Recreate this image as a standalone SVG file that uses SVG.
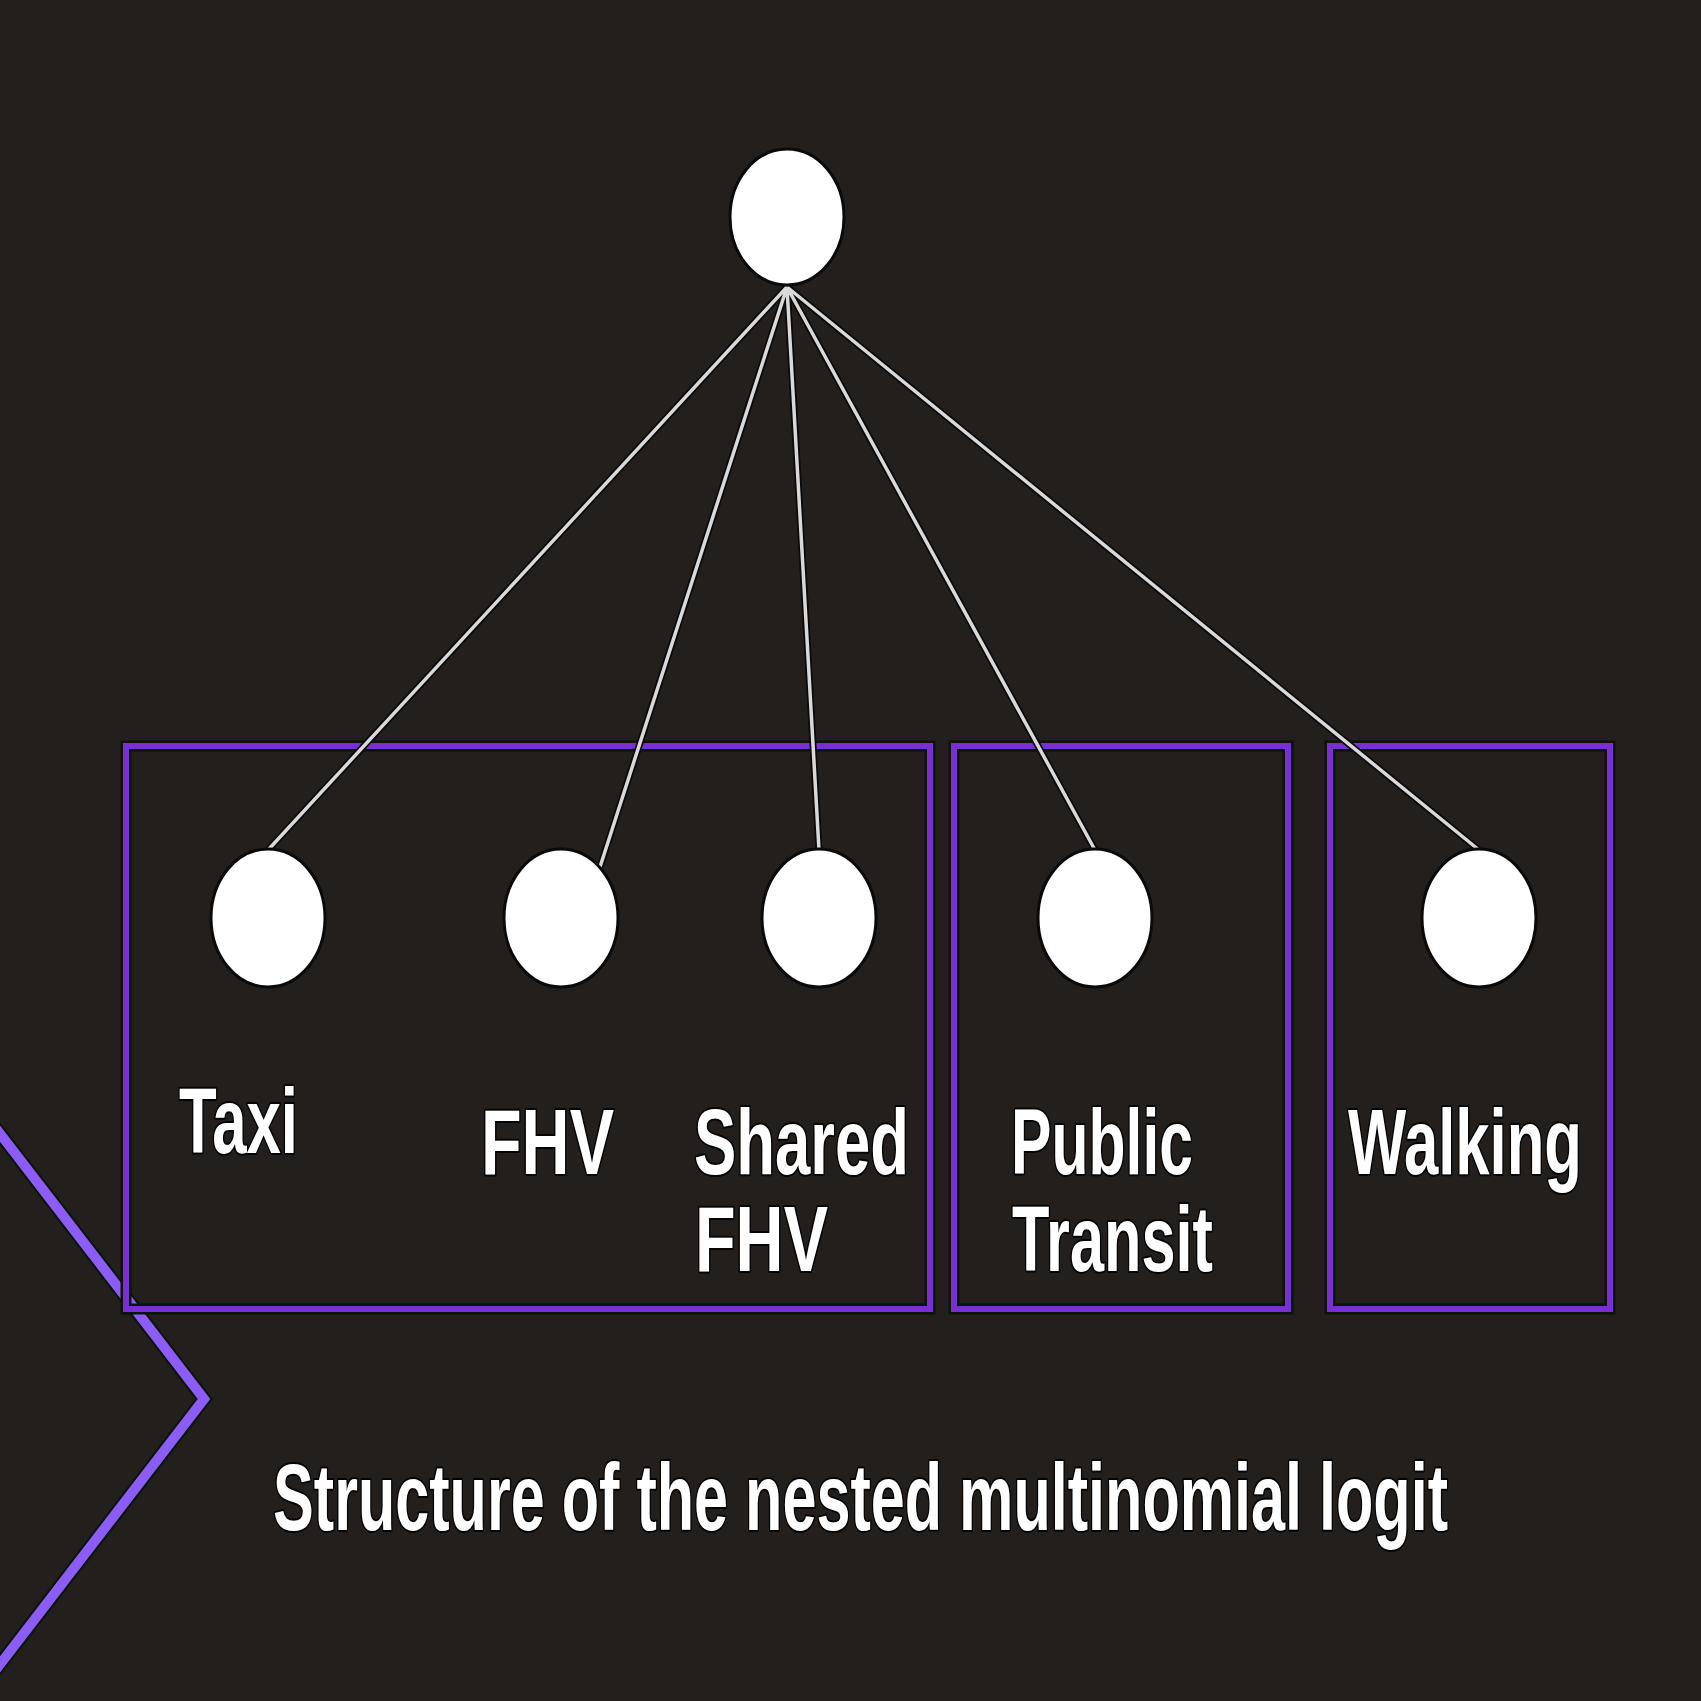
<svg xmlns="http://www.w3.org/2000/svg" width="1701" height="1701" viewBox="0 0 1701 1701">
<style>
.bg{fill:#231f1d}
.node{fill:#ffffff;stroke:#0a0a0a;stroke-width:3}
.halo{fill:none;stroke:#0b1409;stroke-width:11}
.box{fill:none;stroke:#7a2fd2;stroke-width:6}
.edge-h{stroke:#0a0a0a;stroke-width:7;fill:none}
.edge{stroke:#d9d9d9;stroke-width:3.5;fill:none}
.lbl{font-family:"Liberation Sans",Arial,sans-serif;font-weight:bold;font-size:92px;fill:#ffffff;stroke:#050505;stroke-width:4;paint-order:stroke;stroke-linejoin:round}
.cap{font-size:94px}
.chev-h{fill:none;stroke:#0b1409;stroke-width:14}
.chev{fill:none;stroke:#8c5cf7;stroke-width:10}
</style>
<rect class="bg" x="0" y="0" width="1701" height="1701"/>
<g id="decoration">
<polyline class="chev-h" points="-22,1105 204,1399 -22,1693"/>
<polyline class="chev" points="-22,1105 204,1399 -22,1693"/>
</g>
<g id="nest-boxes">
<rect class="halo" x="126" y="746" width="804" height="563"/>
<rect class="box" x="126" y="746" width="804" height="563"/>
<rect class="halo" x="954" y="746" width="334" height="563"/>
<rect class="box" x="954" y="746" width="334" height="563"/>
<rect class="halo" x="1330" y="746" width="280" height="563"/>
<rect class="box" x="1330" y="746" width="280" height="563"/>
</g>
<g id="connectors">
<path class="edge-h" d="M787,287 L268,850 M787,287 L600,867 M787,287 L819,850 M787,287 L1095,850 M787,287 L1479,850"/>
<path class="edge" d="M787,287 L268,850 M787,287 L600,867 M787,287 L819,850 M787,287 L1095,850 M787,287 L1479,850"/>
</g>
<g id="root"><ellipse class="node" cx="787" cy="217" rx="57" ry="68"/></g>
<g id="taxi"><ellipse class="node" cx="268" cy="918" rx="57" ry="69"/>
<text class="lbl" x="179" y="1153" textLength="119" lengthAdjust="spacingAndGlyphs">Taxi</text></g>
<g id="fhv"><ellipse class="node" cx="561" cy="918" rx="57" ry="69"/>
<text class="lbl" x="481" y="1174" textLength="133" lengthAdjust="spacingAndGlyphs">FHV</text></g>
<g id="shared-fhv"><ellipse class="node" cx="819" cy="918" rx="57" ry="69"/>
<text class="lbl" x="694" y="1174" textLength="215" lengthAdjust="spacingAndGlyphs">Shared</text>
<text class="lbl" x="695" y="1271" textLength="133" lengthAdjust="spacingAndGlyphs">FHV</text></g>
<g id="public-transit"><ellipse class="node" cx="1095" cy="918" rx="57" ry="69"/>
<text class="lbl" x="1011" y="1174" textLength="182" lengthAdjust="spacingAndGlyphs">Public</text>
<text class="lbl" x="1012" y="1271" textLength="201" lengthAdjust="spacingAndGlyphs">Transit</text></g>
<g id="walking"><ellipse class="node" cx="1479" cy="918" rx="57" ry="69"/>
<text class="lbl" x="1348" y="1174" textLength="234" lengthAdjust="spacingAndGlyphs">Walking</text></g>
<g id="caption" transform="translate(273,1530) scale(0.68,1)">
<text class="lbl cap" x="0" y="0" textLength="1728" lengthAdjust="spacingAndGlyphs">Structure of the nested multinomial logit</text>
</g>
</svg>
